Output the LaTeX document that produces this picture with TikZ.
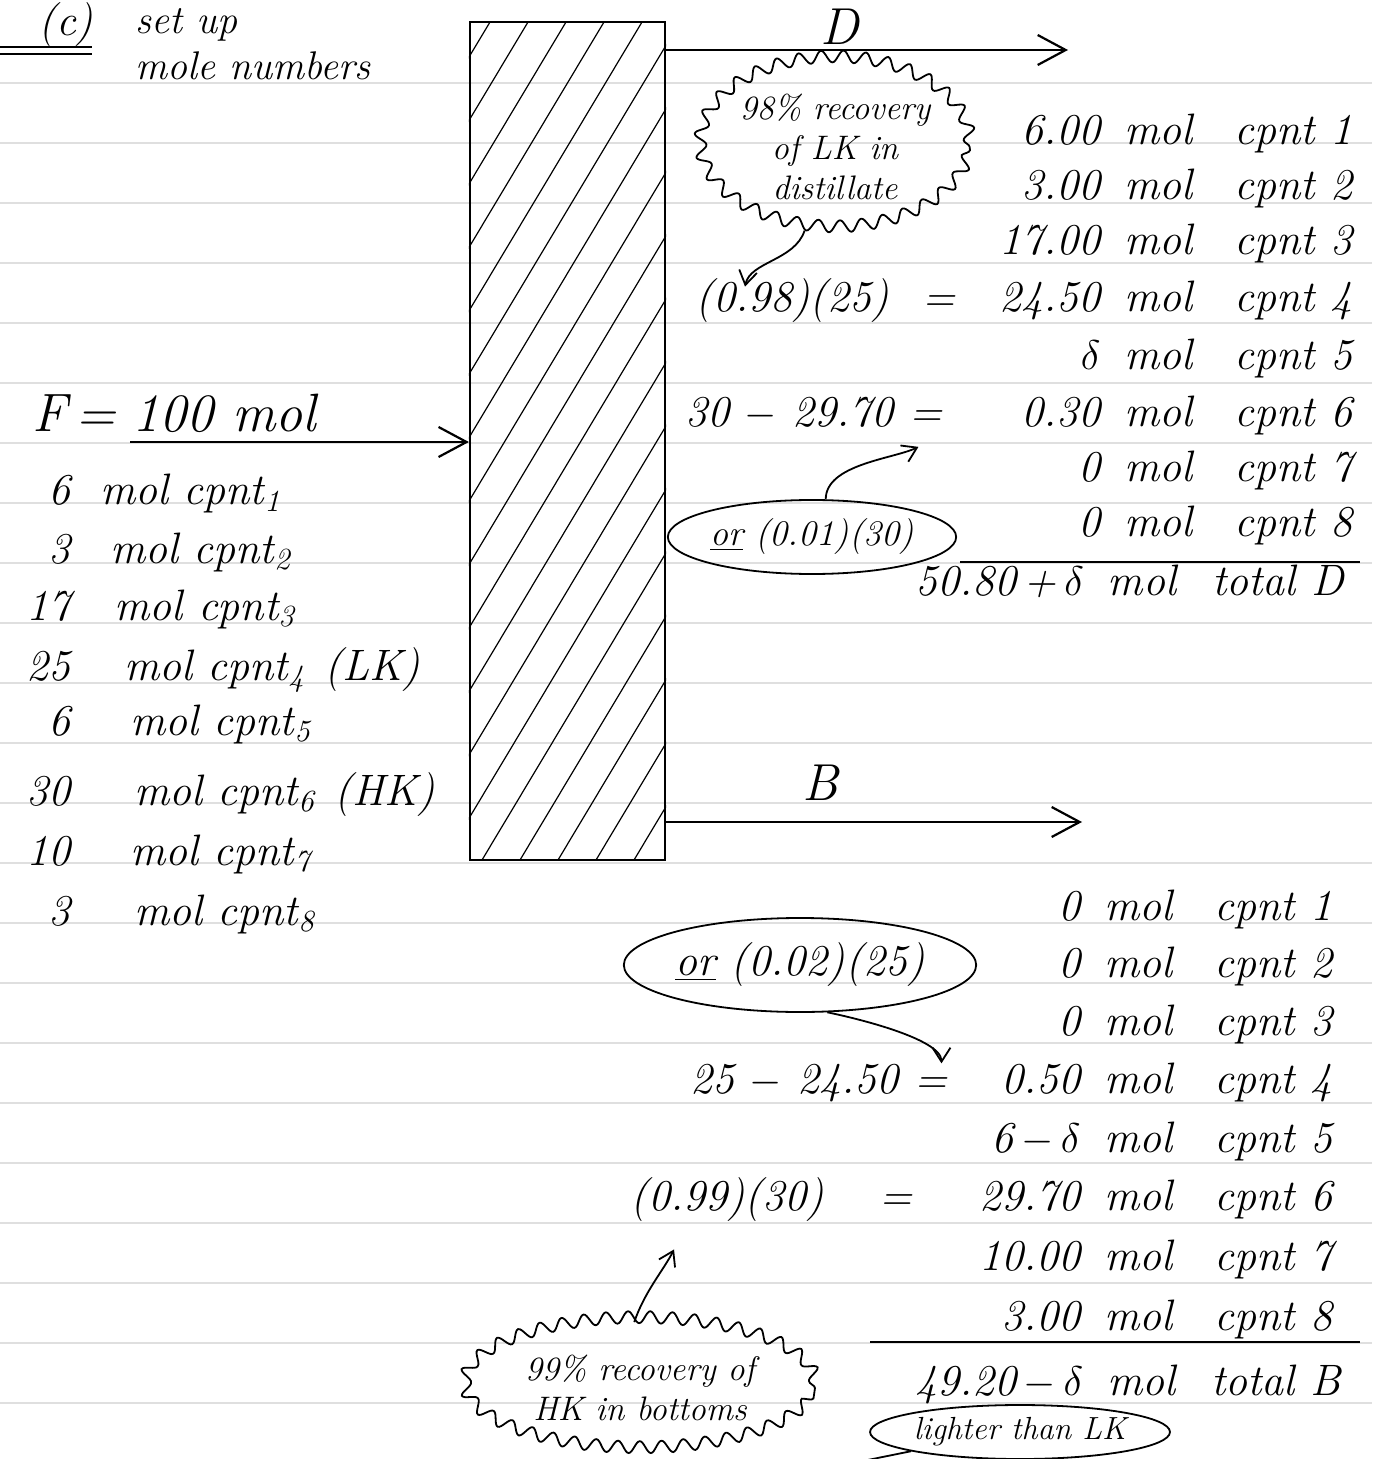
\documentclass[tikz,border=0pt]{standalone}
\usetikzlibrary{arrows.meta,shapes.geometric,decorations.pathmorphing,calc}
\newcommand\qrow[3]{\makebox[#1][r]{#2}\hspace{12pt}\makebox[55pt][l]{mol}cpnt #3}
\begin{document}
\begin{tikzpicture}[x=0.5pt,y=-0.5pt,
  hand/.style={font=\fontsize{22}{26}\selectfont\itshape, inner sep=0pt},
  smallhand/.style={font=\fontsize{16}{19}\selectfont\itshape, inner sep=0pt, align=center},
  big/.style={font=\fontsize{27}{30}\selectfont\itshape, inner sep=0pt},
  huge/.style={font=\fontsize{26}{28}\selectfont\itshape, inner sep=0pt},
  ink/.style={line width=1.1pt},
  flow/.style={ink, -{Straight Barb[length=14pt,width=15pt]}},
  note/.style={line width=0.9pt, -{Straight Barb[length=7pt,width=9pt]}},
  cloud/.style={draw, ellipse, line width=0.9pt, decorate, decoration={snake, amplitude=3pt, segment length=11pt}},
  oval/.style={draw, ellipse, line width=0.9pt},
  rule/.style={gray!25, line width=0.6pt}]
\useasboundingbox (0,0) rectangle (1372,1459);
\clip (0,0) rectangle (1372,1459);
\fill[white] (0,0) rectangle (1372,1459);
% ruled notebook lines
\foreach \k in {0,...,22} \draw[rule] (0,{83+60*\k}) -- (1372,{83+60*\k});

% header
\node[hand, anchor=base west] (c) at (38,36) {(c)};
\draw[ink] (0,47) -- (92,47);
\draw[ink] (0,54) -- (92,54);
\node[hand, font=\fontsize{20}{24}\selectfont\itshape, anchor=base west] (setup) at (135,34) {set up};
\node[hand, font=\fontsize{20}{24}\selectfont\itshape, anchor=base west] (molenum) at (135,80) {mole numbers};

% column
\node[draw, ink, minimum width=97.5pt, minimum height=419pt, inner sep=0pt] (col) at (567.5,441) {};
\begin{scope}
\clip (col.south west) rectangle (col.north east);
\foreach \k in {0,...,20} \draw[line width=0.6pt] ({-50+38*\k},860) -- ++(502,-838);
\end{scope}

% feed
\node[big, anchor=base west] (Flab) at (32,432) {F\,=};
\node[big, anchor=base west] (Fval) at (132,432) {100 mol};
\coordinate (fin) at (130,442);
\draw[flow] (fin) -- (fin -| col.west);

\node[hand, anchor=base west] (f1) at (10,505) {\makebox[30pt][r]{6}\hspace{15pt}mol cpnt\textsubscript{1}};
\node[hand, anchor=base west] (f2) at (10,563) {\makebox[30pt][r]{3}\hspace{20pt}mol cpnt\textsubscript{2}};
\node[hand, anchor=base west] (f3) at (10,620) {\makebox[30pt][r]{17}\hspace{22pt}mol cpnt\textsubscript{3}};
\node[hand, anchor=base west] (f4) at (10,680) {\makebox[30pt][r]{25}\hspace{27pt}mol cpnt\textsubscript{4}\hspace{10pt}(LK)};
\node[hand, anchor=base west] (f5) at (10,735) {\makebox[30pt][r]{6}\hspace{30pt}mol cpnt\textsubscript{5}};
\node[hand, anchor=base west] (f6) at (10,805) {\makebox[30pt][r]{30}\hspace{32pt}mol cpnt\textsubscript{6}\hspace{10pt}(HK)};
\node[hand, anchor=base west] (f7) at (10,865) {\makebox[30pt][r]{10}\hspace{30pt}mol cpnt\textsubscript{7}};
\node[hand, anchor=base west] (f8) at (10,925) {\makebox[30pt][r]{3}\hspace{32pt}mol cpnt\textsubscript{8}};

% distillate
\coordinate (dout) at (1068,50);
\draw[flow] (col.east |- dout) -- (dout);
\node[huge, anchor=base] (Dlab) at (840,45) {D};

\node[cloud, smallhand, font=\fontsize{17}{20}\selectfont\itshape, minimum width=125pt, minimum height=85pt] (c1) at (835,147) {98\% recovery\\of LK in\\distillate};

\node[hand, anchor=base west] (d1) at (960,145) {\qrow{70pt}{6.00}{1}};
\node[hand, anchor=base west] (d2) at (960,200) {\qrow{70pt}{3.00}{2}};
\node[hand, anchor=base west] (d3) at (960,255) {\qrow{70pt}{17.00}{3}};
\node[hand, anchor=base west] (d4) at (960,312) {\qrow{70pt}{24.50}{4}};
\node[hand, anchor=base west] (d5) at (960,370) {\qrow{70pt}{$\delta$}{5}};
\node[hand, anchor=base west] (d6) at (960,427) {\qrow{70pt}{0.30}{6}};
\node[hand, anchor=base west] (d7) at (960,482) {\qrow{70pt}{0}{7}};
\node[hand, anchor=base west] (d8) at (960,537) {\qrow{70pt}{0}{8}};
\draw[ink] (960,562) -- (1360,562);
\node[hand, anchor=base west] (dT) at (915,595) {50.80\,+\,$\delta$\hspace{12pt}mol\hspace{18pt}total D};

\node[hand, anchor=base west] (eq1) at (695,312) {(0.98)(25)\hspace{17pt}=};
\draw[note] (c1.250) .. controls +(-10,30) and +(5,-25) .. ([xshift=25pt,yshift=-4pt]eq1.north west);

\node[hand, anchor=base west] (eq2) at (685,427) {30 $-$ 29.70 =};
\node[oval, hand, font=\fontsize{18}{21}\selectfont\itshape, minimum width=120pt, minimum height=37pt] (o1) at (812,537) {\underline{or} (0.01)(30)};
\draw[note] (o1.70) .. controls +(0,-35) and +(-25,12) .. ([xshift=-12pt,yshift=-8pt]eq2.south east);

% bottoms
\coordinate (bout) at (1082,822);
\draw[flow] (col.east |- bout) -- (bout);
\node[huge, anchor=base] (Blab) at (820,800) {B};

\node[hand, anchor=base west] (b1) at (940,920) {\qrow{70pt}{0}{1}};
\node[hand, anchor=base west] (b2) at (940,977) {\qrow{70pt}{0}{2}};
\node[hand, anchor=base west] (b3) at (940,1035) {\qrow{70pt}{0}{3}};
\node[hand, anchor=base west] (b4) at (940,1093) {\qrow{70pt}{0.50}{4}};
\node[hand, anchor=base west] (b5) at (940,1152) {\qrow{70pt}{6\,$-$\,$\delta$}{5}};
\node[hand, anchor=base west] (b6) at (940,1210) {\qrow{70pt}{29.70}{6}};
\node[hand, anchor=base west] (b7) at (940,1270) {\qrow{70pt}{10.00}{7}};
\node[hand, anchor=base west] (b8) at (940,1330) {\qrow{70pt}{3.00}{8}};
\draw[ink] (870,1342) -- (1360,1342);
\node[hand, anchor=base west] (bT) at (915,1395) {49.20\,$-$\,$\delta$\hspace{12pt}mol\hspace{18pt}total B};

\node[oval, hand, minimum width=165pt, minimum height=47pt] (o2) at (800,965) {\underline{or} (0.02)(25)};
\node[hand, anchor=base west] (eq3) at (690,1093) {25 $-$ 24.50 =};
\draw[note] (o2.-60) .. controls +(25,5) and +(0,-25) .. ([xshift=-3pt]eq3.north east);

\node[hand, anchor=base west] (eq4) at (630,1210) {(0.99)(30)\hspace{28pt}=};
\node[cloud, smallhand, font=\fontsize{17}{20}\selectfont\itshape, minimum width=175pt, minimum height=65pt] (c2) at (640,1388) {99\% recovery of\\HK in bottoms};
\draw[note] (c2.95) .. controls +(10,-30) and +(-10,20) .. ([xshift=22pt,yshift=-14pt]eq4.south west);

\node[oval, smallhand, minimum width=145pt, minimum height=27pt] (lt) at (1020,1432) {lighter than LK};
\coordinate (ltend) at (838,1466);
\draw[line width=0.9pt] (lt.190) -- (ltend);
\end{tikzpicture}
\end{document}
